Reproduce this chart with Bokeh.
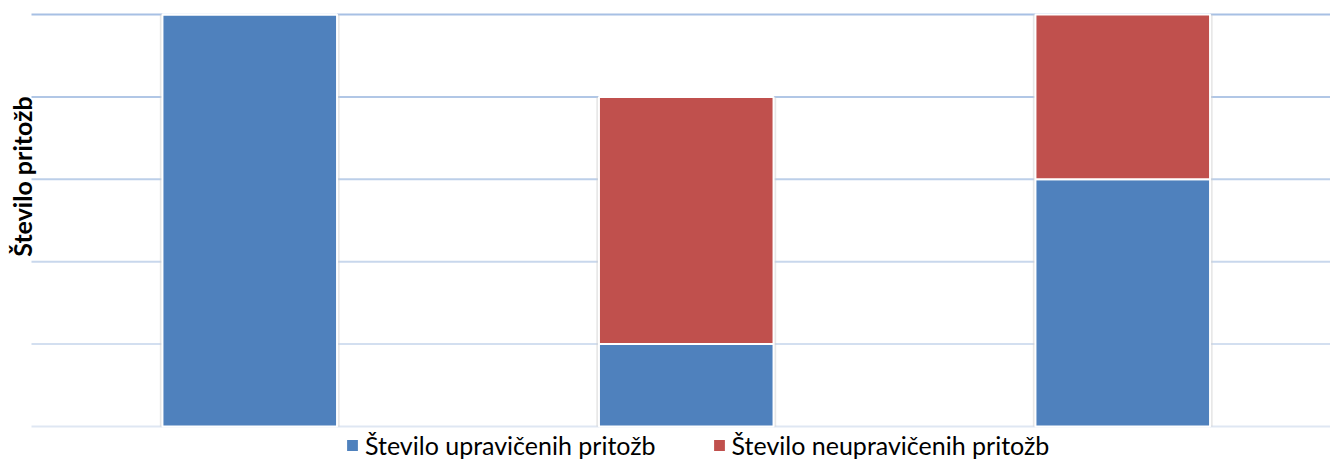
import math
from bokeh.plotting import figure
from bokeh.models import Range1d, Legend, LegendItem, Label, ColumnDataSource
from bokeh.embed import file_html
from bokeh.resources import INLINE

# ---- data ----
categories = ["1", "2", "3"]
upravicene = [5, 1, 3]
neupravicene = [0, 3, 2]
series_names = ["Število upravičenih pritožb", "Število neupravičenih pritožb"]
series_colors = ["#4f81bd", "#c0504d"]
y_ticks = [0, 1, 2, 3, 4, 5]
grid_colors = ["#dfe7f3", "#d3dff0", "#c8d7ec", "#bccfe9", "#b1c7e6", "#a7c0e4"]
y_title = "Število pritožb"

FONT = "Lato"

xs = list(range(len(categories)))
totals = [a + b for a, b in zip(upravicene, neupravicene)]
src = ColumnDataSource(dict(
    x=xs, cat=categories,
    b0=[0] * len(xs), t0=upravicene,
    b1=upravicene, t1=totals,
))

# layout in pixels (the frame spans the whole canvas)
W, H = 1330, 462
px_y = 412 / 5          # pixels per unit on value axis
px_x = 436.5            # pixels per category
left_pad, top_pad, bottom_pad = 31, 14, 36
x0 = -0.5 - left_pad / px_x
x1 = -0.5 + (W - left_pad) / px_x
y0 = -bottom_pad / px_y
y1 = max(y_ticks) + top_pad / px_y

p = figure(width=W, height=H, output_backend="svg", toolbar_location=None,
           x_range=Range1d(x0, x1), y_range=Range1d(y0, y1),
           min_border=0)
p.xaxis.visible = False
p.yaxis.visible = False
p.xgrid.visible = False
p.ygrid.visible = False
p.outline_line_color = None
p.background_fill_color = "white"
p.border_fill_color = "white"

# gridlines
grid_src = ColumnDataSource(dict(y=y_ticks, c=grid_colors,
                                 xa=[-0.5] * len(y_ticks), xb=[x1] * len(y_ticks)))
p.segment(x0="xa", y0="y", x1="xb", y1="y", line_color="c", line_width=2, source=grid_src)

bw = 0.4
# faint shadow behind bars
p.vbar(x="x", bottom=0, top="t1", width=bw + 0.012, source=src,
       fill_color="#cfcfcf", fill_alpha=0.5, line_color=None)
r0 = p.vbar(x="x", bottom="b0", top="t0", width=bw, source=src,
            fill_color=series_colors[0], line_color="white", line_width=2)
r1 = p.vbar(x="x", bottom="b1", top="t1", width=bw, source=src,
            fill_color=series_colors[1], line_color="white", line_width=2)

legend = Legend(items=[LegendItem(label=series_names[0], renderers=[r0]),
                       LegendItem(label=series_names[1], renderers=[r1])],
                orientation="horizontal", location=(344, 2),
                label_text_font=FONT, label_text_font_size="25px",
                label_text_color="#000000",
                glyph_width=16, glyph_height=16, label_standoff=5, spacing=55,
                padding=4, margin=0, border_line_color=None,
                background_fill_alpha=0)
p.add_layout(legend)

ylab = Label(x=-0.5 - 10 / px_x, y=(426 - 176) / px_y, text=y_title, angle=math.pi / 2,
             text_align="center", text_baseline="middle",
             text_font=FONT, text_font_size="25px", text_font_style="bold",
             text_color="#000000")
p.add_layout(ylab)

open("out.html", "w").write(file_html(p, INLINE))
